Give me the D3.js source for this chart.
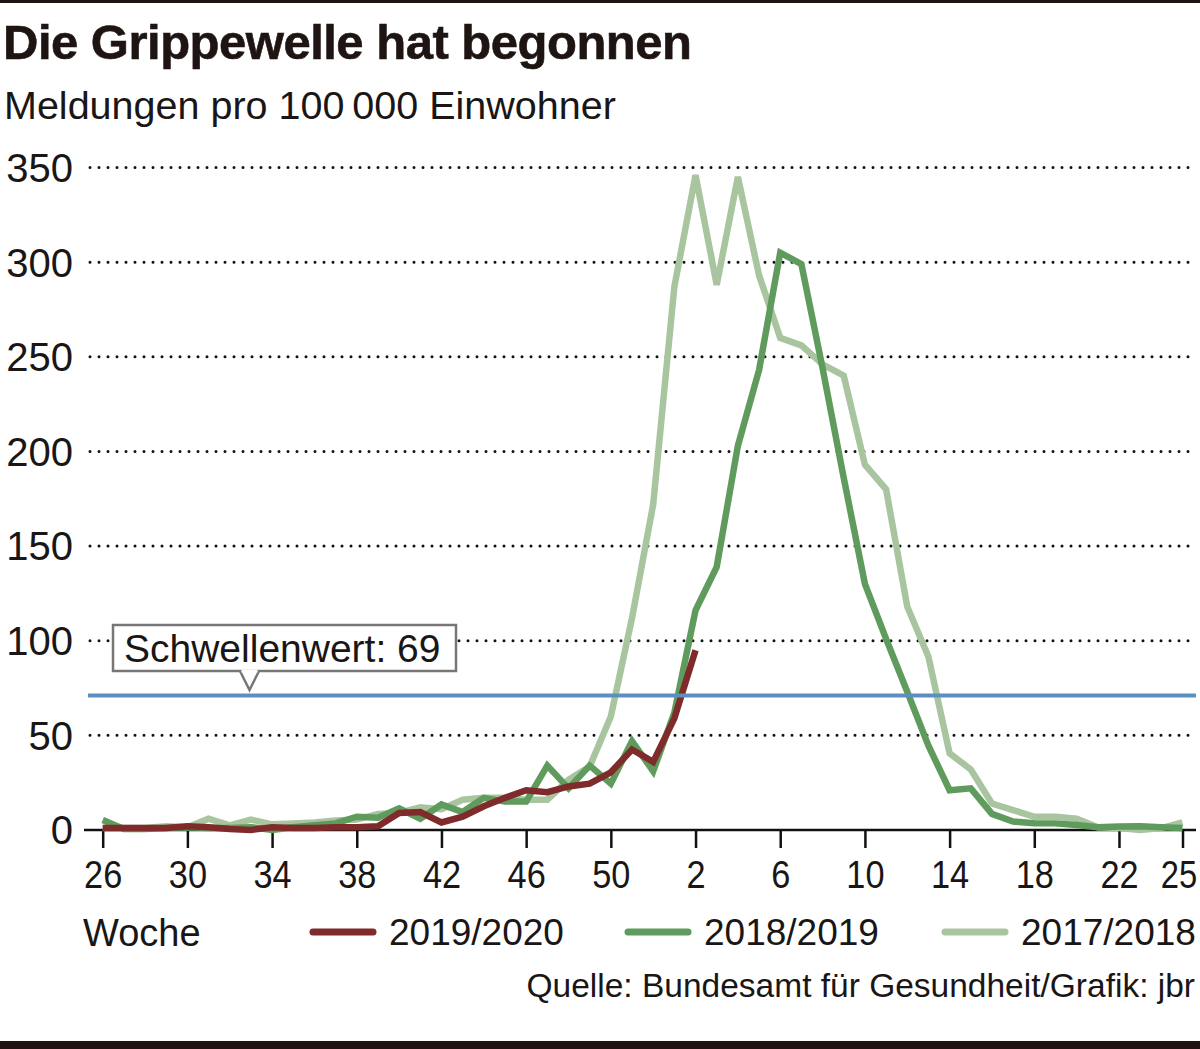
<!DOCTYPE html>
<html><head><meta charset="utf-8">
<script src="https://cdn.jsdelivr.net/npm/d3@7"></script>
<style>
html,body{margin:0;padding:0;background:#fff;}
svg{display:block;font-family:"Liberation Sans",Arial,sans-serif;}
</style></head>
<body>
<svg id="chart" width="1200" height="1049"></svg>
<script>
// ---- data ----
const weeks = [26,27,28,29,30,31,32,33,34,35,36,37,38,39,40,41,42,43,44,45,46,47,48,49,50,51,52,
               1,2,3,4,5,6,7,8,9,10,11,12,13,14,15,16,17,18,19,20,21,22,23,24,25];
const tickWeeks = [26,30,34,38,42,46,50,2,6,10,14,18,22,25];
const yTicks = [0,50,100,150,200,250,300,350];
const seriesNames = ["2019/2020","2018/2019","2017/2018"];
const s2019_2020 = [1,1,1,1,2,1.5,0.5,0,1.5,1,1,1.5,1.5,2,9,9.5,4,7,12.5,17,21,20,23,24.5,30.5,42.5,36,59,95];
const s2018_2019 = [5.3,0.5,0.5,1,1.5,1,1,1.5,0,1.5,2.5,3.5,7,6.5,11.5,6,13.5,9.5,17,15,15,34,22,34,24.5,47,31,
                    62,116,139,203,243,305,299,244,186,130,101,73,44.5,21,22,8.5,4.5,3.6,3.5,2.6,1.4,1.8,2,1.4,1];
const s2017_2018 = [1,1,1,2,1.5,6,2.5,5.5,3,3.5,4,5,5.5,8.5,9,12,11,16,17,17,16,16,26.5,33.5,60,112,172,
                    287,346,288,345,293,260,256,246,240,193,180,118,91.5,40.5,32,14,10.5,7,7,6,1.5,1,0,1,4];
const thresholdLabel = "Schwellenwert: 69";
const thresholdLine = 71;
const title = "Die Grippewelle hat begonnen";
const subtitle = "Meldungen pro 100\u2009000 Einwohner";
const source = "Quelle: Bundesamt für Gesundheit/Grafik: jbr";
const colors = ["#7f2b2b","#5f9b5c","#a9c5a0"];

// ---- scales ----
const svg = d3.select("#chart");
const x = d3.scaleLinear().domain([0, weeks.length-1]).range([102.7, 1182.5]);
const y = d3.scaleLinear().domain([0, 350]).range([830, 167.5]);
const txt = "#1a1615";

svg.append("rect").attr("x",0).attr("y",0).attr("width",1200).attr("height",3).attr("fill","#1e1512");
svg.append("rect").attr("x",0).attr("y",1041).attr("width",1200).attr("height",8).attr("fill","#1e1512");

svg.append("text").attr("x",3).attr("y",59).attr("font-size",49).attr("font-weight","bold")
  .attr("letter-spacing",-0.5).attr("fill","#1e1512").attr("stroke","#1e1512").attr("stroke-width",0.6)
  .text(title);
svg.append("text").attr("x",4).attr("y",119).attr("font-size",39.5).attr("fill",txt).text(subtitle);

// gridlines
svg.append("g").selectAll("line").data(yTicks.filter(d=>d>0)).join("line")
  .attr("x1",90).attr("x2",1196).attr("y1",d=>y(d)).attr("y2",d=>y(d))
  .attr("stroke","#111").attr("stroke-width",3).attr("stroke-linecap","round")
  .attr("stroke-dasharray","0 9");

// y labels
svg.append("g").selectAll("text").data(yTicks).join("text")
  .attr("x",73).attr("y",d=>y(d)).attr("dy","0.36em").attr("text-anchor","end")
  .attr("font-size",40).attr("fill",txt).text(d=>d);

// x axis
const xAxis = d3.axisBottom(x)
  .tickValues(tickWeeks.map(w=>weeks.indexOf(w)))
  .tickFormat(i=>weeks[i]).tickSize(18).tickPadding(10);
const gx = svg.append("g").attr("transform","translate(0,830)").call(xAxis);
gx.select(".domain").remove();
gx.selectAll(".tick line").attr("stroke","#111").attr("stroke-width",2.5);
gx.selectAll(".tick text").attr("font-size",39).attr("fill",txt)
  .attr("font-family","Liberation Sans, Arial, sans-serif").attr("dy","0.78em")
  .attr("transform",(d,i,n)=> i===n.length-1 ? "translate(-4,0) scale(0.84,1)" : "scale(0.88,1)");
svg.append("line").attr("x1",84).attr("x2",1196).attr("y1",830).attr("y2",830)
  .attr("stroke","#111").attr("stroke-width",2.5);

// lines
const line = d3.line().x((d,i)=>x(i)).y(d=>y(d)).curve(d3.curveLinear);
const allSeries = [s2017_2018, s2018_2019, s2019_2020];
const allColors = [colors[2], colors[1], colors[0]];
svg.append("g").selectAll("path").data(allSeries).join("path")
  .attr("d",line).attr("fill","none").attr("stroke",(d,i)=>allColors[i])
  .attr("stroke-width",6.5).attr("stroke-linejoin","miter").attr("stroke-linecap","butt");

// threshold
svg.append("line").attr("x1",88).attr("x2",1196).attr("y1",y(thresholdLine)).attr("y2",y(thresholdLine))
  .attr("stroke","#5b8fc1").attr("stroke-width",4);

// callout
const cg = svg.append("g");
cg.append("rect").attr("x",113).attr("y",625).attr("width",343).attr("height",46)
  .attr("fill","#fff").attr("stroke","#777").attr("stroke-width",2.5);
cg.append("path").attr("d","M240,671 L249.5,690 L259,671").attr("fill","#fff")
  .attr("stroke","#777").attr("stroke-width",2.5);
cg.append("line").attr("x1",241.5).attr("x2",257.5).attr("y1",671).attr("y2",671)
  .attr("stroke","#fff").attr("stroke-width",3);
cg.append("text").attr("x",124).attr("y",648).attr("dy","0.36em").attr("font-size",39)
  .attr("fill",txt).text(thresholdLabel);

// legend
svg.append("text").attr("x",83).attr("y",932).attr("dy","0.36em").attr("font-size",38)
  .attr("fill",txt).text("Woche");
const legX = [313, 628, 945];
const lg = svg.append("g").selectAll("g").data(seriesNames).join("g")
  .attr("transform",(d,i)=>`translate(${legX[i]},932)`);
lg.append("line").attr("x1",0).attr("x2",60).attr("y1",0).attr("y2",0)
  .attr("stroke",(d,i)=>colors[i]).attr("stroke-width",7).attr("stroke-linecap","round");
lg.append("text").attr("x",76).attr("dy","0.36em").attr("font-size",37).attr("fill",txt).text(d=>d);

svg.append("text").attr("x",1195).attr("y",997).attr("text-anchor","end").attr("font-size",33.5)
  .attr("fill",txt).text(source);
</script>
</body></html>
